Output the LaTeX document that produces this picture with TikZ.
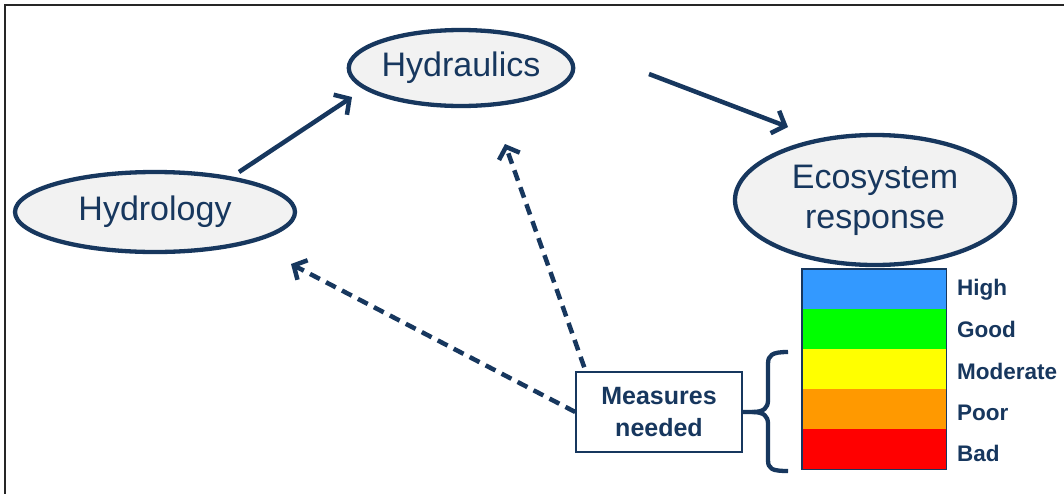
\documentclass[tikz,border=0pt]{standalone}
\usepackage{fontspec}
\setmainfont{Liberation Sans}
\usetikzlibrary{arrows.meta,shapes.geometric}
\definecolor{navy}{HTML}{17375E}
\definecolor{ellfill}{HTML}{F2F2F2}
\definecolor{cblue}{HTML}{3399FF}
\definecolor{cgreen}{HTML}{00FF00}
\definecolor{cyellow}{HTML}{FFFF00}
\definecolor{corange}{HTML}{FF9900}
\definecolor{cred}{HTML}{FF0000}
\tikzset{
  bubble/.style={ellipse, draw=navy, line width=4.3pt, fill=ellfill, text=navy, inner sep=0pt,
    font=\fontsize{34}{40}\selectfont, align=center},
  flow/.style={draw=navy, line width=4.5pt, -{Straight Barb[length=11pt,width=24pt]}},
  need/.style={draw=navy, line width=4.5pt, dash pattern=on 11pt off 7pt, -{Straight Barb[length=10pt,width=22pt]}},
  band/.style={draw=none, minimum width=144pt, minimum height=40pt, inner sep=0pt, anchor=north west},
  lvl/.style={text=navy, font=\bfseries\fontsize{22.5}{24}\selectfont, anchor=base west, inner sep=0pt},
  measbox/.style={draw=navy, line width=1.5pt, fill=white, text=navy, minimum width=166pt, minimum height=80pt,
    inner sep=0pt, align=center, font=\bfseries\fontsize{25}{32}\selectfont},
}
\begin{document}
\begin{tikzpicture}[x=1pt,y=-1pt]
\useasboundingbox (0,0) rectangle (1064,493);
\fill[white] (0,0) rectangle (1064,493);
\draw[line width=2.2pt, black!85] (5,500) -- (5,5) -- (1070,5);

\node[bubble, minimum width=280pt, minimum height=80pt] (hydro) at (155,212) {Hydrology};
\node[bubble, minimum width=218pt, minimum height=76pt] (hydra) at (461,68) {Hydraulics};
\node[bubble, minimum width=280pt, minimum height=130pt] (eco) at (875,200) {Ecosystem\\response};

\coordinate (s1) at (239,172);
\coordinate (e1) at (352,97);
\draw[flow] (s1) -- (e1);
\coordinate (a1) at (649,74);
\coordinate (a2) at (788,127);
\draw[flow] (a1) -- (a2);

% colour scale
\node[band, fill=cblue] (b1) at (802,269) {};
\node[band, fill=cgreen] (b2) at (802,309) {};
\node[band, fill=cyellow] (b3) at (802,349) {};
\node[band, fill=corange] (b4) at (802,389) {};
\node[band, fill=cred] (b5) at (802,429) {};
\draw[navy, line width=1.2pt] (b1.north west) rectangle (b5.south east);

\node[lvl] (l1) at (957,295) {High};
\node[lvl] (l2) at (957,337) {Good};
\node[lvl] (l3) at (957,379) {Moderate};
\node[lvl] (l4) at (957,420) {Poor};
\node[lvl] (l5) at (957,461) {Bad};

\node[measbox] (meas) at (659,412) {Measures\\needed};

\coordinate (h1) at (291,264);
\coordinate (h2) at (505,144);
\draw[need] (meas.west) -- (h1);
\draw[need] (meas.north west) ++(9,-4) coordinate (m2) (m2) -- (h2);

% brace
\draw[navy, line width=4.3pt, line join=round]
  (meas.east) -- (752,412)
  .. controls (764,412) and (768,408) .. (768,400)
  -- (768,364) .. controls (768,355) and (772,352) .. (788,352);
\draw[navy, line width=4.3pt, line join=round]
  (752,412) .. controls (764,412) and (768,416) .. (768,424)
  -- (768,460) .. controls (768,469) and (772,471) .. (788,471);
\end{tikzpicture}
\end{document}
